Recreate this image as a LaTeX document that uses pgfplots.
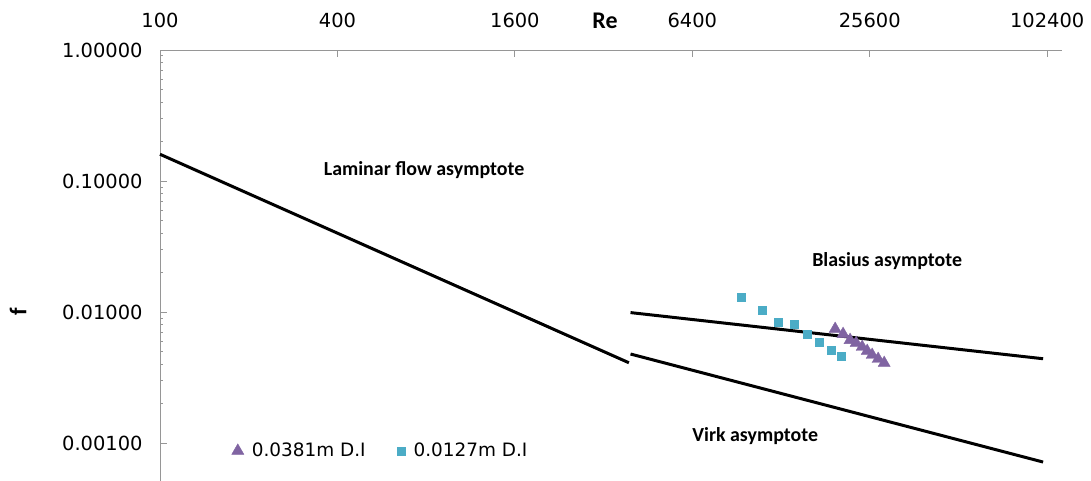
\documentclass[border=0pt]{standalone}
\usepackage{pgfplots}
\pgfplotsset{compat=1.18}
\usepackage{fontspec}
\setmainfont{DejaVu Sans}
\newfontfamily\carl{Carlito}
\definecolor{mpurple}{RGB}{128,100,162}
\definecolor{mteal}{RGB}{75,172,198}
\definecolor{axgray}{RGB}{150,150,150}
\begin{document}
\begin{tikzpicture}
\path[use as bounding box] (0,0) rectangle (1091bp,481bp);
\begin{axis}[
  at={(160bp,0bp)}, anchor=south west,
  scale only axis, width=902bp, height=431bp,
  xmode=log, ymode=log, log basis x=4,
  xmin=100, xmax=115000, ymin=0.000513, ymax=1,
  axis x line*=top, axis y line*=left,
  axis line style={axgray, line width=1bp, -},
  xtick={100,400,1600,6400,25600,102400},
  xticklabels={100,400,1600,6400,25600,102400},
  ytick={0.001,0.01,0.1,1},
  yticklabels={0.00100,0.01000,0.10000,1.00000},
  minor tick num=0,
  tick style={axgray, line width=1bp},
  major tick length=7bp,
  tick align=inside,
  ticklabel style={font=\fontsize{19.5}{22}\selectfont, text=black},
  xticklabel style={yshift=19bp},
  yticklabel style={xshift=-14bp},
  clip=false,
  legend style={draw=none, fill=none, at={(0.076,0.07)}, anchor=west,
    legend columns=2, font=\fontsize{18.5}{22}\selectfont,
    /tikz/every odd column/.append style={column sep=6bp},
    /tikz/every even column/.append style={column sep=30bp}},
]
\addplot[only marks, mark=triangle*, mark size=7bp, color=mpurple] coordinates {
(19540,0.00742) (20790,0.00679) (21960,0.00611) (23020,0.00580) (24130,0.00541)
(25100,0.00504) (26090,0.00470) (27340,0.00438) (28660,0.00408)};
\addlegendentry{0.0381m D.I}
\addplot[only marks, mark=square*, mark size=4bp, color=mteal] coordinates {
(9370,0.01302) (11040,0.01036) (12520,0.00839) (14190,0.00810) (15700,0.00679)
(17240,0.00590) (18930,0.00513) (20480,0.00461)};
\addlegendentry{0.0127m D.I}
\addplot[black, line width=3bp, forget plot] coordinates {(100,0.16) (3900,0.0041)};
\addplot[black, line width=3bp, forget plot] coordinates {(3950,0.0099) (99200,0.0044)};
\addplot[black, line width=3bp, forget plot] coordinates {(3950,0.00478) (99200,0.000716)};
\node[font=\carl\bfseries\fontsize{20}{24}\selectfont] at (axis cs:787,0.1213) {Laminar flow asymptote};
\node[font=\carl\bfseries\fontsize{20}{24}\selectfont] at (axis cs:29330,0.0245) {Blasius asymptote};
\node[font=\carl\bfseries\fontsize{20}{24}\selectfont] at (axis cs:10460,0.00113) {Virk asymptote};
\end{axis}
\node[font=\carl\bfseries\fontsize{24}{28}\selectfont] at (605bp,460bp) {Re};
\node[font=\carl\bfseries\fontsize{24}{28}\selectfont, rotate=90] at (18bp,169bp) {f};
\end{tikzpicture}
\end{document}
